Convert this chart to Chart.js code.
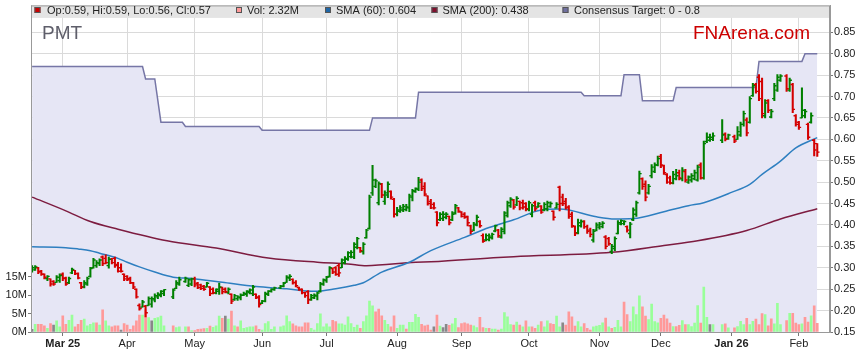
<!DOCTYPE html>
<html>
<head>
<meta charset="utf-8">
<title>PMT</title>
<script src="https://cdn.jsdelivr.net/npm/chart.js@4.4.1/dist/chart.umd.min.js"></script>
<style>
  html, body { margin: 0; padding: 0; background: #fff; }
  #wrap { width: 859px; height: 363px; }
</style>
</head>
<body>
<div id="wrap"><canvas id="chart" width="859" height="363"></canvas></div>
<script>
// one slot per weekday starting Mon 17 Feb 2025, null = ASX holiday
const opens = [
  .292,.295,.300,.292,.285,.275,.274,.268,.266,.270,
  .285,.276,.265,.288,.294,.286,.265,.255,.262,.280,
  .300,.305,.310,.325,.322,.305,.320,.322,.308,.300,
  .285,.280,.275,.265,.250,.212,.208,.210,.212,.215,
  .225,.232,.235,.240,null,null,.232,.252,.262,null,
  .268,.259,.262,.274,.264,.260,.257,.255,.255,.250,
  .241,.245,.254,.250,.242,.238,.226,.228,.230,.236,
  .238,.242,.240,.238,.232,.217,.222,.238,.245,.249,
  null,.253,.257,.266,.276,.273,.266,.254,.250,.242,
  .244,.226,.230,.234,.245,.262,.270,.280,.298,.300,
  .305,.300,.312,.320,.326,.325,.348,.347,.338,.370,
  .392,.475,.490,.452,.495,.455,.470,.478,.460,.425,
  .432,.435,.436,.440,.465,.478,.483,.505,.490,.468,
  .455,.448,.430,.412,.415,.418,.420,.412,.428,.440,
  .430,.425,.420,.398,.388,.400,.408,.375,.365,.366,
  .370,.386,.388,.372,.385,.422,.445,.458,.447,.455,
  .452,.450,.436,.425,.452,.442,.444,.435,.438,.443,
  .432,.440,.488,.465,.455,.442,.425,.396,.382,.398,
  .408,.396,.388,.365,.388,.395,.396,.372,.368,.338,
  .345,.380,.402,.403,.396,.380,.412,.425,.475,.508,
  .495,.475,.515,.525,.540,.560,.538,.518,.510,.498,
  .508,.522,.508,.525,.500,.505,.508,.505,.540,.510,
  .595,.598,.600,null,null,.598,.612,.602,null,.606,
  .600,.610,.635,.645,.640,.702,.728,.745,.735,.655,
  .690,.652,.695,.715,.738,null,.748,.715,.728,.655,
  .640,.650,.655,.635,.640,.598,.590
];
const highs = [
  .305,.305,.301,.294,.286,.282,.274,.270,.282,.286,
  .288,.278,.278,.299,.294,.288,.266,.270,.278,.301,
  .322,.317,.321,.328,.330,.325,.322,.325,.313,.309,
  .286,.282,.278,.266,.251,.216,.224,.212,.232,.232,
  .239,.242,.247,.249,null,null,.251,.270,.278,null,
  .278,.274,.276,.278,.266,.262,.259,.266,.256,.253,
  .251,.264,.255,.253,.253,.239,.238,.235,.239,.243,
  .247,.251,.259,.239,.235,.224,.243,.247,.251,.255,
  null,.259,.266,.282,.284,.274,.270,.255,.251,.243,
  .247,.238,.239,.243,.266,.274,.280,.303,.300,.303,
  .309,.321,.326,.338,.340,.359,.371,.348,.359,.390,
  .470,.539,.507,.501,.497,.480,.501,.480,.462,.441,
  .445,.448,.448,.472,.483,.487,.511,.508,.499,.468,
  .460,.452,.431,.429,.431,.429,.421,.431,.448,.441,
  .431,.429,.421,.400,.406,.423,.410,.379,.379,.379,
  .381,.400,.390,.394,.431,.456,.464,.460,.466,.456,
  .458,.452,.456,.449,.456,.452,.445,.452,.456,.454,
  .433,.452,.491,.472,.462,.445,.430,.398,.414,.412,
  .410,.400,.393,.390,.405,.406,.408,.375,.371,.355,
  .372,.410,.412,.410,.398,.406,.440,.456,.526,.510,
  .503,.495,.541,.545,.561,.565,.540,.520,.514,.525,
  .530,.528,.534,.530,.515,.520,.528,.540,.545,.596,
  .615,.612,.615,null,null,.646,.615,.612,null,.610,
  .630,.640,.666,.650,.700,.731,.731,.751,.743,.693,
  .693,.670,.731,.751,.751,null,.751,.743,.731,.658,
  .642,.720,.670,.638,.662,.600,.590
];
const lows = [
  .290,.294,.286,.282,.274,.270,.257,.259,.266,.266,
  .270,.259,.263,.286,.284,.274,.251,.253,.259,.278,
  .299,.301,.305,.305,.309,.299,.309,.301,.290,.290,
  .270,.270,.263,.251,.229,.201,.208,.185,.212,.208,
  .220,.228,.232,.235,null,null,.228,.251,.259,null,
  .266,.256,.258,.255,.251,.249,.247,.255,.235,.239,
  .239,.238,.239,.241,.239,.216,.224,.224,.225,.235,
  .233,.239,.235,.228,.208,.216,.220,.235,.243,.247,
  null,.251,.255,.266,.270,.262,.255,.247,.239,.231,
  .216,.224,.228,.225,.243,.259,.266,.278,.286,.282,
  .280,.300,.309,.317,.323,.321,.344,.336,.332,.369,
  .390,.469,.487,.447,.464,.448,.464,.460,.418,.421,
  .429,.431,.433,.431,.456,.476,.480,.480,.468,.446,
  .438,.437,.398,.410,.410,.414,.400,.410,.425,.429,
  .418,.415,.398,.379,.386,.398,.394,.359,.363,.363,
  .367,.384,.371,.369,.379,.418,.441,.437,.445,.435,
  .437,.433,.433,.419,.433,.441,.427,.433,.433,.441,
  .411,.439,.433,.445,.437,.415,.394,.375,.379,.395,
  .392,.380,.372,.360,.386,.390,.393,.344,.352,.333,
  .340,.379,.400,.400,.383,.370,.410,.420,.472,.483,
  .456,.472,.510,.522,.538,.534,.518,.497,.495,.496,
  .505,.505,.503,.500,.497,.500,.505,.502,.507,.507,
  .592,.595,.597,null,null,.592,.596,.600,null,.592,
  .600,.607,.631,.608,.638,.700,.708,.690,.650,.650,
  .662,.650,.690,.712,.735,null,.712,.712,.662,.631,
  .623,.650,.650,.600,.638,.561,.560
];
const closes = [
  .300,.302,.290,.285,.278,.280,.262,.262,.278,.282,
  .275,.262,.275,.296,.287,.276,.255,.265,.275,.298,
  .318,.312,.318,.310,.312,.320,.312,.305,.292,.292,
  .274,.272,.265,.255,.232,.205,.220,.195,.228,.228,
  .235,.238,.245,.249,null,null,.248,.265,.272,null,
  .275,.272,.274,.260,.254,.252,.250,.264,.240,.242,
  .250,.255,.244,.244,.250,.222,.235,.232,.236,.240,
  .245,.248,.255,.230,.214,.222,.240,.245,.250,.253,
  null,.257,.264,.278,.280,.265,.258,.249,.242,.235,
  .225,.235,.236,.241,.262,.272,.278,.300,.290,.285,
  .288,.318,.322,.335,.336,.355,.368,.340,.355,.388,
  .465,.505,.503,.497,.470,.475,.495,.465,.425,.435,
  .440,.443,.442,.468,.480,.485,.500,.485,.472,.450,
  .440,.440,.405,.425,.425,.425,.405,.425,.445,.432,
  .420,.418,.405,.385,.402,.418,.398,.362,.375,.374,
  .378,.398,.375,.390,.428,.452,.460,.442,.462,.440,
  .442,.438,.452,.445,.438,.450,.430,.448,.452,.450,
  .418,.448,.450,.450,.440,.420,.398,.380,.405,.408,
  .396,.385,.378,.385,.400,.402,.404,.350,.356,.350,
  .368,.405,.410,.408,.388,.402,.435,.452,.520,.490,
  .465,.490,.535,.540,.555,.540,.522,.500,.498,.518,
  .515,.510,.528,.505,.512,.515,.522,.535,.510,.590,
  .605,.605,.608,null,null,.610,.600,.610,null,.596,
  .618,.635,.660,.615,.695,.725,.712,.695,.660,.685,
  .668,.665,.725,.745,.748,null,.718,.738,.670,.635,
  .628,.668,.665,.605,.655,.575,.570
];
// volume in millions
const volumes = [
  .7,2.1,2.1,2.1,1.7,1.0,2.3,1.9,3.0,1.4,
  4.4,2.1,3.2,4.6,1.4,2.1,3.2,3.5,1.7,2.1,
  2.5,2.5,1.9,6.0,3.0,1.7,1.4,1.7,1.7,.5,
  2.3,1.9,.7,1.7,3.0,4.6,4.6,6.0,3.9,3.0,
  3.7,3.9,4.3,1.7,null,null,1.7,1.2,1.4,null,
  1.4,1.4,.4,.4,.7,.8,.9,1.0,1.6,1.3,
  1.7,4.3,3.7,4.3,3.5,5.7,1.7,1.4,3.0,1.0,
  1.2,1.4,1.4,1.7,.7,.5,2.3,2.8,.7,1.4,
  null,1.4,1.7,4.4,2.8,2.2,1.7,1.4,1.4,2.5,
  2.5,1.0,.5,2.3,4.9,1.4,2.2,1.4,3.2,2.8,
  2.2,2.2,1.9,4.1,2.3,1.3,1.9,1.0,2.8,4.4,
  8.4,7.1,5.5,6.2,4.4,3.2,2.1,1.4,4.4,1.0,
  1.9,1.9,.8,2.6,2.6,4.8,4.0,2.1,1.7,1.9,
  .5,1.4,4.6,1.6,1.2,2.1,1.8,2.2,3.7,1.2,
  2.3,2.5,2.2,1.9,1.7,1.2,4.0,1.2,1.0,1.0,
  .8,.8,.5,.8,5.3,4.1,2.0,1.9,2.7,1.9,
  1.4,3.0,1.4,1.4,1.0,1.9,2.8,1.4,3.0,2.3,
  2.1,4.3,1.4,2.5,1.9,5.5,4.1,1.6,2.8,1.4,
  2.3,1.0,.5,1.4,1.6,1.8,2.5,3.8,1.4,1.0,
  1.3,3.2,1.4,8.1,4.7,2.8,6.8,4.7,9.8,6.8,
  4.3,3.4,7.6,2.8,2.5,3.7,4.6,3.6,2.4,1.5,
  1.5,1.8,3.1,2.0,2.0,1.5,2.4,7.2,2.4,12.2,
  4.0,2.0,2.0,null,null,2.0,2.2,1.1,null,1.1,
  1.5,2.9,2.0,3.7,2.0,2.9,3.5,2.0,5.0,4.7,
  1.7,3.6,2.2,7.8,2.0,null,3.1,5.1,5.1,2.4,
  2.0,2.2,4.0,2.7,4.4,7.1,2.32
];

// moving averages (slot index, value)
const sma60Idx = [0, 11, 15, 19, 22, 28, 31, 35, 40, 46, 52, 62, 73, 83, 92, 99, 105, 108, 114, 123, 130, 141, 149, 157, 166, 172, 184, 190, 196, 206, 214, 219, 228, 234, 238, 244, 249, 256];
const sma60 = [.349, .347, .344, .340, .334, .322, .313, .302, .290, .278, .275, .266, .256, .251, .245, .251, .259, .265, .290, .313, .340, .371, .394, .412, .435, .437, .419, .414, .415, .431, .445, .452, .476, .495, .518, .549, .580, .604];
const sma200Idx = [0, 11, 19, 28, 44, 60, 77, 93, 103, 109, 125, 130, 152, 157, 189, 206, 217, 233, 244, 256];
const sma200 = [.465, .433, .408, .390, .363, .346, .323, .313, .309, .305, .313, .314, .324, .326, .336, .352, .363, .387, .414, .438];

// consensus target steps
const targetIdx = [0, 36, 37, 40, 42, 49, 50, 74, 75, 110, 111, 125, 126, 179, 180, 192, 193, 198, 199, 209, 210, 236, 237, 251, 252, 256];
const targetVal = [.77, .77, .741, .741, .64, .64, .63, .63, .621, .621, .65, .65, .71, .71, .702, .702, .751, .751, .69, .69, .721, .721, .782, .782, .80, .80];

const monthIdx = [10, 31, 53, 75, 96, 119, 140, 162, 185, 205, 228, 250];
const monthLabels = ['Mar 25', 'Apr', 'May', 'Jun', 'Jul', 'Aug', 'Sep', 'Oct', 'Nov', 'Dec', 'Jan 26', 'Feb'];
const boldMonths = [10, 228];
const priceTicks = [0.15, 0.20, 0.25, 0.30, 0.35, 0.40, 0.45, 0.50, 0.55, 0.60, 0.65, 0.70, 0.75, 0.80, 0.85];
const volTicks = [0, 5, 10, 15];

const FONT = '"Liberation Sans", Arial, sans-serif';
Chart.defaults.font.family = FONT;
Chart.defaults.font.size = 11;
Chart.defaults.color = '#222';

const upColor = '#008000';
const downColor = '#d40000';

const rangeData = [], barColors = [], openPts = [], closePts = [], volData = [], volColors = [];
let prevClose = null;
for (let i = 0; i < opens.length; i++) {
  if (opens[i] === null) continue;
  const col = closes[i] >= opens[i] ? upColor : downColor;
  rangeData.push({ x: i, y: [lows[i], highs[i]] });
  barColors.push(col);
  openPts.push({ x: i - 0.38, y: opens[i] });
  closePts.push({ x: i + 0.38, y: closes[i] });
  volData.push({ x: i, y: volumes[i] });
  let vc = '#888888';
  if (prevClose !== null && closes[i] > prevClose + 0.0005) vc = '#99ff99';
  else if (prevClose !== null && closes[i] < prevClose - 0.0005) vc = '#ff9999';
  volColors.push(vc);
  prevClose = closes[i];
}

const pts = (xs, ys) => xs.map((x, k) => ({ x: x, y: ys[k] }));
const last = arr => arr[arr.length - 1];

const legendItems = [
  { sq: 34.5, tx: 47, color: '#cc0000', text: 'Op:' + last(opens).toFixed(2) + ', Hi:' + last(highs).toFixed(2) + ', Lo:' + last(lows).toFixed(2) + ', Cl:' + last(closes).toFixed(2) },
  { sq: 236, tx: 247, color: '#ff9999', text: 'Vol: ' + last(volumes).toFixed(2) + 'M' },
  { sq: 325, tx: 336, color: '#1f66a6', text: 'SMA (60): ' + last(sma60).toFixed(3) },
  { sq: 431.5, tx: 442.5, color: '#80102e', text: 'SMA (200): ' + last(sma200).toFixed(3) },
  { sq: 562.5, tx: 574, color: '#7070a0', text: 'Consensus Target: 0 - 0.8' }
];

const overlay = {
  id: 'overlay',
  afterDraw(chart) {
    const { ctx, chartArea: a } = chart;
    ctx.save();
    ctx.fillStyle = '#e4e4e4';
    ctx.fillRect(a.left, a.top, a.right - a.left, 12.5);
    ctx.strokeStyle = '#999';
    ctx.lineWidth = 1;
    ctx.strokeRect(a.left + 0.5, a.top + 0.5, a.right - a.left - 1, a.bottom - a.top);

    ctx.font = '11px ' + FONT;
    ctx.textBaseline = 'middle';
    legendItems.forEach(it => {
      ctx.fillStyle = it.color;
      ctx.fillRect(it.sq, 7, 6, 6);
      ctx.strokeStyle = '#555';
      ctx.strokeRect(it.sq + 0.5, 7.5, 5, 5);
      ctx.fillStyle = '#222';
      ctx.fillText(it.text, it.tx, 10.5);
    });

    ctx.textBaseline = 'alphabetic';
    ctx.font = '19px ' + FONT;
    ctx.fillStyle = '#5e5e6a';
    ctx.fillText('PMT', 42, 39);
    ctx.fillStyle = '#cc0000';
    ctx.fillText('FNArena.com', 693, 39);
    ctx.restore();
  }
};

new Chart(document.getElementById('chart'), {
  type: 'bar',
  data: {
    datasets: [
      {
        type: 'line', label: 'Consensus Target', data: pts(targetIdx, targetVal),
        borderColor: '#7676a6', borderWidth: 1.5, backgroundColor: '#e6e6f5',
        fill: 'start', pointRadius: 0, tension: 0, yAxisID: 'y', order: 10
      },
      {
        type: 'bar', label: 'Vol', data: volData, backgroundColor: volColors,
        barThickness: 2, grouped: false, yAxisID: 'yVol', order: 9
      },
      {
        type: 'line', label: 'SMA (200)', data: pts(sma200Idx, sma200),
        borderColor: '#7d1c40', borderWidth: 1.5, pointRadius: 0,
        cubicInterpolationMode: 'monotone', yAxisID: 'y', order: 8
      },
      {
        type: 'line', label: 'SMA (60)', data: pts(sma60Idx, sma60),
        borderColor: '#2e7fc0', borderWidth: 1.5, pointRadius: 0,
        cubicInterpolationMode: 'monotone', yAxisID: 'y', order: 7
      },
      {
        type: 'bar', label: 'Range', data: rangeData, backgroundColor: barColors,
        barThickness: 1.4, grouped: false, yAxisID: 'y', order: 3
      },
      {
        type: 'scatter', label: 'Open', data: openPts, pointStyle: 'line',
        pointRadius: 1.1, pointBorderWidth: 1.4, pointBorderColor: barColors,
        borderColor: barColors, yAxisID: 'y', order: 2
      },
      {
        type: 'scatter', label: 'Close', data: closePts, pointStyle: 'line',
        pointRadius: 1.1, pointBorderWidth: 1.4, pointBorderColor: barColors,
        borderColor: barColors, yAxisID: 'y', order: 1
      }
    ]
  },
  options: {
    responsive: false,
    animation: false,
    events: [],
    layout: { padding: { top: 4, left: 0, right: 0, bottom: 0 } },
    plugins: { legend: { display: false }, tooltip: { enabled: false } },
    scales: {
      x: {
        type: 'linear', min: -0.36, max: 260.15, offset: false,
        afterBuildTicks: s => { s.ticks = monthIdx.map(v => ({ value: v })); },
        afterFit: s => { s.height = 31; s.paddingLeft = 0; s.paddingRight = 0; },
        ticks: {
          autoSkip: false, maxRotation: 0, padding: 1, color: '#222',
          callback: v => monthLabels[monthIdx.indexOf(v)],
          font: c => ({ size: 11, weight: (c.tick && boldMonths.includes(c.tick.value)) ? 'bold' : 'normal' })
        },
        grid: { color: '#dadada', offset: false, tickLength: 4, tickColor: '#777' },
        border: { color: '#888' }
      },
      y: {
        type: 'linear', position: 'right', min: 0.15, max: 0.15 + 328 / 430,
        afterBuildTicks: s => { s.ticks = priceTicks.map(v => ({ value: v })); },
        afterFit: s => { s.width = 29; s.paddingTop = 0; s.paddingBottom = 0; },
        ticks: { padding: 1, color: '#222', callback: v => v.toFixed(2) },
        grid: { color: '#dadada', tickLength: 3, tickColor: '#777' },
        border: { color: '#999' }
      },
      yVol: {
        type: 'linear', position: 'left', min: 0, max: 328 / 18.5 * 5,
        afterBuildTicks: s => { s.ticks = volTicks.map(v => ({ value: v })); },
        afterFit: s => { s.width = 31; s.paddingTop = 0; s.paddingBottom = 0; },
        ticks: { padding: 1, color: '#222', callback: v => v + 'M' },
        grid: { drawOnChartArea: false, tickLength: 3, tickColor: '#777' },
        border: { color: '#888' }
      }
    }
  },
  plugins: [overlay]
});
</script>
</body>
</html>
